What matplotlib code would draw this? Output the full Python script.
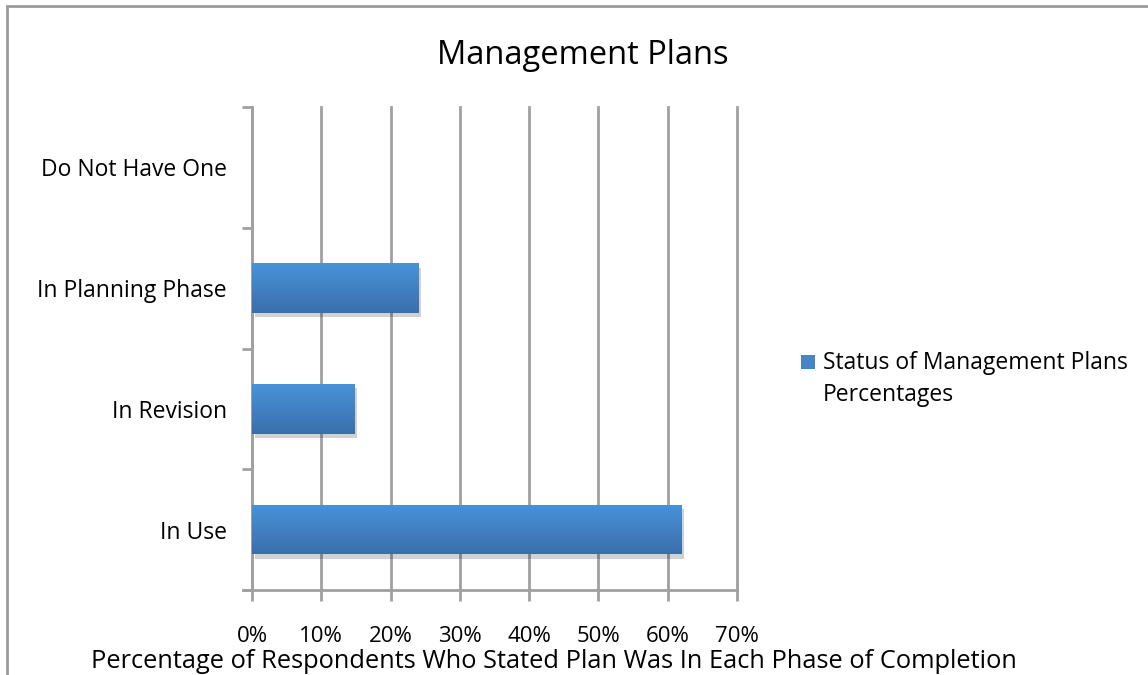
import matplotlib
matplotlib.use("Agg")
import matplotlib.pyplot as plt
import numpy as np
from matplotlib.patches import Rectangle
import matplotlib.patheffects as pe
from matplotlib.colors import LinearSegmentedColormap

categories = ["In Use", "In Revision", "In Planning Phase", "Do Not Have One"]
values = [0.62, 0.148, 0.24, 0.0]
xticks = [0, 0.1, 0.2, 0.3, 0.4, 0.5, 0.6, 0.7]
xticklabels = ["0%", "10%", "20%", "30%", "40%", "50%", "60%", "70%"]
title = "Management Plans"
xlabel = "Percentage of Respondents Who Stated Plan Was In Each Phase of Completion"
legend_lines = ["Status of Management Plans", "Percentages"]

plt.rcParams['font.family'] = ['Open Sans', 'DejaVu Sans']
W, H = 1148, 675
fig = plt.figure(figsize=(W/100, H/100), dpi=100)

# outer chart border
fig.add_artist(Rectangle((7/W, -0.1), 1.2, 1 - 6/H + 0.1, transform=fig.transFigure,
                         fill=False, edgecolor='#9a9a9a', linewidth=2))

ax = fig.add_axes([252/W, 1 - 590/H, (737-252)/W, (590-107)/H])
pos = np.arange(len(categories))
grid_c = '#a0a0a0'

bars = ax.barh(pos, values, height=0.41, color='#4584c8', zorder=3,
               path_effects=[pe.SimplePatchShadow(offset=(2, -3), shadow_rgbFace='black', alpha=0.18),
                             pe.Normal()])
cmap = LinearSegmentedColormap.from_list('g', ['#3a6eab', '#4893d9'])
grad = np.linspace(0, 1, 256).reshape(-1, 1)
for b in bars:
    x0, y0, w, h = b.get_x(), b.get_y(), b.get_width(), b.get_height()
    if w <= 0:
        continue
    im = ax.imshow(grad, extent=(x0, x0 + w, y0, y0 + h), origin='lower', cmap=cmap,
                   aspect='auto', zorder=4)
    im.set_clip_path(b)

ax.set_xlim(0, 0.7)
ax.set_ylim(-0.5, len(categories) - 0.5)
ax.set_xticks(xticks)
ax.set_xticklabels(xticklabels, fontsize=16)
ax.set_yticks(pos)
ax.set_yticklabels(categories, fontsize=16.5)
ax.set_yticks(np.arange(-0.5, len(categories), 1.0), minor=True)
ax.tick_params(axis='y', which='major', length=0, pad=18)
ax.tick_params(axis='y', which='minor', length=7, width=2, color=grid_c)
ax.tick_params(axis='x', which='major', length=8, width=2, color=grid_c, pad=18)
ax.xaxis.grid(True, color=grid_c, linewidth=2, zorder=0)
for gl in ax.get_xgridlines():
    gl.set_clip_on(False)
ax.set_axisbelow(True)
for s in ['top', 'right']:
    ax.spines[s].set_visible(False)
for s in ['left', 'bottom']:
    ax.spines[s].set_color(grid_c)
    ax.spines[s].set_linewidth(2)
ax.spines['bottom'].set_bounds(-0.013, 0.7)

fig.text(554/W, 1 - 661/H, xlabel, fontsize=18.3, ha='center', va='center')
fig.text(583/W, 1 - 55/H, title, fontsize=23.5, ha='center', va='center')

# legend
fig.add_artist(Rectangle((801/W, 1 - 369/H), 14/W, 14/H, transform=fig.transFigure,
                         facecolor='#4584c8', edgecolor='none'))
fig.text(823/W, 1 - 363/H, legend_lines[0], fontsize=16.5, ha='left', va='center')
fig.text(823/W, 1 - 395/H, legend_lines[1], fontsize=16.5, ha='left', va='center')

fig.savefig("out.png", dpi=100)
